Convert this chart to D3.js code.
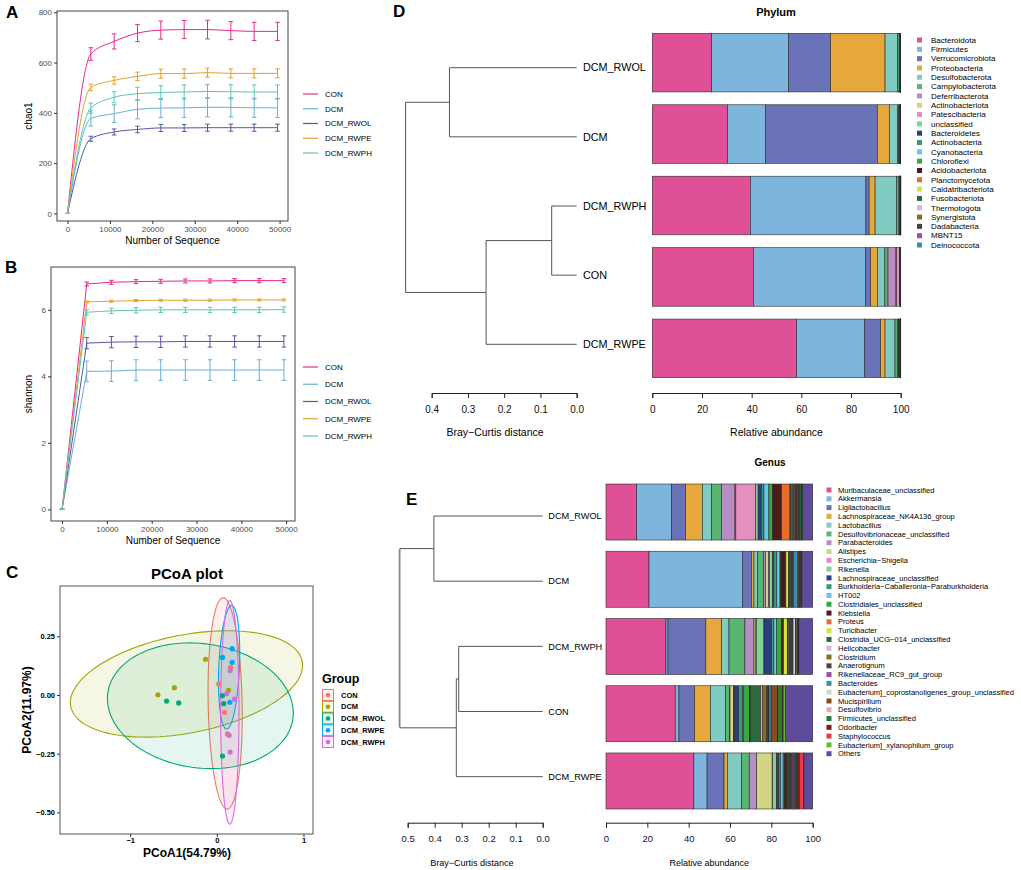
<!DOCTYPE html>
<html>
<head>
<meta charset="utf-8">
<script src="https://cdn.jsdelivr.net/npm/d3@7"></script>
<style>
body { margin: 0; background: #fff; }
text { font-family: "Liberation Sans", Arial, sans-serif; }
</style>
</head>
<body>
<svg id="svg" width="1021" height="870"></svg>
<script>
var svg = d3.select("#svg");

// groups and colours
var groups = ["CON", "DCM", "DCM_RWOL", "DCM_RWPE", "DCM_RWPH"];
var lineColors = ["#e7298a", "#6baed6", "#5457a8", "#e6a02b", "#5fc4b4"];
var pcoaColors = ["#f8766d", "#a3a500", "#00a876", "#00a9ee", "#d56be0"];

// rarefaction (A, B) - rows follow groups order
var seqDepth = [0, 5500, 11000, 16500, 22000, 27500, 33000, 38500, 44000, 49500];
var chao1Mean = [
  [0, 634, 684, 717, 729, 731, 731, 727, 724, 724],
  [0, 378, 397, 414, 419, 420, 422, 422, 420, 420],
  [0, 297, 324, 334, 340, 340, 341, 341, 341, 341],
  [0, 501, 529, 545, 556, 556, 560, 557, 557, 557],
  [0, 419, 462, 476, 481, 483, 485, 484, 483, 483]
];
var chao1Err = [
  [0, 25, 30, 34, 36, 36, 37, 36, 36, 36],
  [0, 30, 35, 38, 38, 38, 38, 38, 38, 38],
  [0, 10, 12, 13, 14, 14, 14, 14, 14, 14],
  [0, 13, 15, 17, 18, 18, 18, 18, 18, 18],
  [0, 20, 22, 26, 27, 28, 28, 28, 28, 28]
];
var shannonMean = [
  [0, 6.78, 6.83, 6.85, 6.86, 6.87, 6.87, 6.88, 6.88, 6.88],
  [0, 4.15, 4.16, 4.19, 4.19, 4.19, 4.19, 4.19, 4.19, 4.19],
  [0, 5.00, 5.03, 5.04, 5.04, 5.05, 5.05, 5.05, 5.05, 5.05],
  [0, 6.24, 6.26, 6.28, 6.29, 6.29, 6.29, 6.30, 6.30, 6.30],
  [0, 5.93, 5.97, 5.99, 6.00, 6.00, 6.00, 6.00, 6.00, 6.01]
];
var shannonErr = [
  [0, 0.06, 0.06, 0.06, 0.06, 0.06, 0.06, 0.06, 0.06, 0.06],
  [0, 0.31, 0.31, 0.31, 0.31, 0.31, 0.31, 0.31, 0.31, 0.31],
  [0, 0.17, 0.17, 0.17, 0.17, 0.17, 0.17, 0.17, 0.17, 0.17],
  [0, 0.03, 0.03, 0.03, 0.03, 0.03, 0.03, 0.03, 0.03, 0.03],
  [0, 0.08, 0.08, 0.08, 0.08, 0.08, 0.08, 0.08, 0.08, 0.08]
];

// PCoA samples
var pcoaGroup = ["DCM","DCM","DCM","DCM",
  "DCM_RWOL","DCM_RWOL","DCM_RWOL","DCM_RWOL","DCM_RWOL",
  "CON","CON","CON","CON",
  "DCM_RWPE","DCM_RWPE","DCM_RWPE","DCM_RWPE",
  "DCM_RWPH","DCM_RWPH","DCM_RWPH","DCM_RWPH","DCM_RWPH"];
var pcoa1 = [-0.13, -0.49, -0.68, 0.135,
  -0.58, -0.44, 0.065, 0.08, 0.065,
  0.023, 0.158, 0.089, 0.123,
  0.177, 0.065, 0.177, 0.15,
  0.154, 0.115, 0.204, 0.142, 0.154];
var pcoa2 = [0.152, 0.031, 0.001, 0.02,
  -0.026, -0.034, -0.003, -0.037, -0.26,
  0.047, 0.118, -0.074, -0.166,
  0.197, 0.16, 0.139, -0.031,
  0.104, 0.006, -0.018, -0.172, -0.243];
// confidence ellipses (groups order): centre and two half-axis vectors
var ellCX = [0.096, -0.35, -0.19, 0.142, 0.15];
var ellCY = [-0.036, 0.047, -0.046, 0.118, -0.074];
var ellAX = [-0.023, 1.336, 1.068, 0.029, 0];
var ellAY = [0.450, 0.096, -0.055, 0.263, 0.476];
var ellBX = [0.196, 0.107, -0.099, 0.119, 0.106];
var ellBY = [0, -0.205, -0.262, 0, 0];

// D / E samples (top to bottom) and trees [left, right, height]
var samples = ["DCM_RWOL", "DCM", "DCM_RWPH", "CON", "DCM_RWPE"];
var phylumTree = [["DCM_RWOL", "DCM", 0.351], [["DCM_RWPH", "CON", 0.069], "DCM_RWPE", 0.25], 0.472];
var genusTree = [["DCM_RWOL", "DCM", 0.403], [["DCM_RWPH", "CON", 0.311], "DCM_RWPE", 0.32], 0.529];

var phylumNames = ["Bacteroidota","Firmicutes","Verrucomicrobiota","Proteobacteria","Desulfobacterota",
  "Campylobacterota","Deferribacterota","Actinobacteriota","Patescibacteria","unclassified","Bacteroidetes",
  "Actinobacteria","Cyanobacteria","Chloroflexi","Acidobacteriota","Planctomycetota","Caldatribacteriota",
  "Fusobacteriota","Thermotogota","Synergistota","Dadabacteria","MBNT15","Deinococcota"];
var phylumColors = ["#e05096","#7db5dc","#6a73b8","#e6a83d","#80cbc2","#5ab573","#b88dc4","#d4d486",
  "#e58fbf","#82d195","#2e3d7e","#3a9a80","#62c8ea","#3aa840","#4a1c1c","#e86c2a","#d6e33a","#2d6b3c",
  "#cdb8e0","#8c6d1f","#4d4040","#a349a8","#3b8ea8"];
var phylumRWOL = [23.9, 31.0, 16.9, 21.9, 5.1, 0.6, 0.1, 0.1, 0.05, 0.1, 0.05, 0.05, 0.05, 0.02, 0.02, 0.01, 0.01, 0.01, 0.01, 0.01, 0.005, 0.005, 0.005];
var phylumDCM = [30.3, 15.2, 45.1, 4.8, 3.4, 0.3, 0.3, 0.1, 0.1, 0.1, 0.1, 0.05, 0.05, 0.02, 0.02, 0.01, 0.01, 0.01, 0.01, 0.01, 0.005, 0.005, 0.005];
var phylumRWPH = [39.5, 46.5, 1.3, 2.4, 8.7, 0.9, 0.2, 0.1, 0.1, 0.1, 0.05, 0.05, 0.04, 0.02, 0.01, 0.01, 0.01, 0.01, 0.01, 0.01, 0.005, 0.005, 0.005];
var phylumCON = [40.7, 45.1, 2.1, 2.7, 3.0, 1.3, 3.2, 0.2, 1.2, 0.2, 0.1, 0.05, 0.05, 0.02, 0.02, 0.01, 0.01, 0.01, 0.01, 0.01, 0.005, 0.005, 0.005];
var phylumRWPE = [58.1, 27.3, 6.5, 1.8, 4.0, 1.1, 0.2, 0.1, 0.1, 0.3, 0.2, 0.1, 0.05, 0.05, 0.04, 0.02, 0.01, 0.01, 0.01, 0.01, 0.005, 0.005, 0.005];

var genusNames = ["Muribaculaceae_unclassified","Akkermansia","Ligilactobacillus","Lachnospiraceae_NK4A136_group",
  "Lactobacillus","Desulfovibrionaceae_unclassified","Parabacteroides","Alistipes","Escherichia\u2212Shigella",
  "Rikenella","Lachnospiraceae_unclassified","Burkholderia\u2212Caballeronia\u2212Paraburkholderia","HT002",
  "Clostridiales_unclassified","Klebsiella","Proteus","Turicibacter","Clostridia_UCG\u2212014_unclassified",
  "Helicobacter","Clostridium","Anaerotignum","Rikenellaceae_RC9_gut_group","Bacteroides",
  "Eubacterium]_coprostanoligenes_group_unclassified","Mucispirillum","Desulfovibrio","Firmicutes_unclassified",
  "Odoribacter","Staphylococcus","Eubacterium]_xylanophilum_group","Others"];
var genusColors = phylumColors.concat(["#c9dccf","#8a4a20","#e6a6b0","#2f7a30","#7d1c1c","#e83a4a","#6ab92b","#5e4b9c"]);
var genusRWOL = [14.8, 17.0, 6.7, 8.1, 4.5, 4.8, 6.5, 0.4, 9.6, 1.2, 1.6, 1.2, 2.4, 1.8, 4.4, 4.0, 0.3, 1.0, 0.3, 0.8, 0.8, 0.2, 0.4, 0.3, 0.3, 0.2, 0.8, 0.3, 0.1, 0.2, 5.0];
var genusDCM = [20.8, 45.2, 4.4, 1.2, 1.8, 2.8, 1.0, 1.4, 0.4, 1.6, 0.6, 1.4, 1.6, 0.4, 2.2, 0.2, 1.2, 0.8, 0.4, 0.4, 0.6, 0.2, 2.2, 0.2, 0.6, 0.1, 0.5, 0.3, 0.1, 0.2, 5.2];
var genusRWPH = [29.0, 1.0, 18.3, 7.6, 3.6, 7.7, 4.4, 0.9, 0.2, 3.7, 3.7, 1.1, 1.3, 2.5, 0.8, 0.1, 1.8, 0.4, 0.4, 0.5, 0.8, 0.5, 0.2, 1.2, 0.2, 0.5, 0.3, 0.3, 0.1, 0.2, 6.7];
var genusCON = [33.5, 1.8, 7.5, 7.7, 7.4, 1.8, 0.3, 1.6, 0.2, 0.3, 2.0, 2.0, 0.3, 3.0, 0.2, 0.1, 0.1, 5.0, 0.8, 2.2, 0.8, 0.2, 1.1, 0.2, 2.8, 0.2, 2.2, 0.3, 0.1, 1.2, 13.1];
var genusRWPE = [42.5, 6.4, 8.2, 1.6, 6.9, 3.7, 3.6, 7.5, 0.2, 1.9, 1.1, 0.8, 1.3, 0.6, 1.2, 0.2, 0.2, 0.6, 0.3, 0.3, 1.0, 0.8, 0.3, 0.3, 0.2, 0.3, 0.4, 1.2, 1.9, 0.3, 4.2];

var xTicksSeq = [0, 10000, 20000, 30000, 40000, 50000];

// small helper for panel letters and loose text
var label = function(x, y, txt, size, weight, anchor) {
  return svg.append("text").attr("x", x).attr("y", y).text(txt)
    .attr("font-size", size).attr("font-weight", weight || "normal")
    .attr("text-anchor", anchor || "start");
};

// ggplot-ish axis styling
var styleGG = function(sel, size, bold) {
  sel.select(".domain").remove();
  sel.selectAll("line").attr("stroke", "#333");
  sel.selectAll("text").attr("font-size", size).attr("fill", bold ? "#000" : "#4d4d4d")
    .attr("font-weight", bold ? "bold" : "normal");
};

// ---------- A, B rarefaction ----------
var rarePanel = function(cfg) {
  var g = svg.append("g");
  var x = d3.scaleLinear().domain([-2475, 51975]).range([cfg.left, cfg.right]);
  var y = d3.scaleLinear().domain(cfg.yDomain).range([cfg.bottom, cfg.top]);
  var line = d3.line()
    .x(function(d, i) { return x(seqDepth[i]); })
    .y(function(d) { return y(d); })
    .curve(cfg.smooth ? d3.curveMonotoneX : d3.curveLinear);

  groups.forEach(function(grp, gi) {
    var m = cfg.mean[gi], e = cfg.err[gi];
    var gg = g.append("g").attr("stroke", lineColors[gi]).attr("stroke-width", 1).attr("fill", "none");
    gg.append("path").attr("d", line(m));
    seqDepth.forEach(function(s, i) {
      var cx = x(s);
      gg.append("line").attr("x1", cx).attr("x2", cx).attr("y1", y(m[i] - e[i])).attr("y2", y(m[i] + e[i]));
      gg.append("line").attr("x1", cx - 2.3).attr("x2", cx + 2.3).attr("y1", y(m[i] - e[i])).attr("y2", y(m[i] - e[i]));
      gg.append("line").attr("x1", cx - 2.3).attr("x2", cx + 2.3).attr("y1", y(m[i] + e[i])).attr("y2", y(m[i] + e[i]));
    });
  });

  g.append("rect").attr("x", cfg.left).attr("y", cfg.top)
    .attr("width", cfg.right - cfg.left).attr("height", cfg.bottom - cfg.top)
    .attr("fill", "none").attr("stroke", "#444").attr("stroke-width", 1);

  var xa = g.append("g").attr("transform", "translate(0," + cfg.bottom + ")")
    .call(d3.axisBottom(x).tickValues(xTicksSeq).tickFormat(d3.format("d")).tickSize(3).tickPadding(2));
  styleGG(xa, 8);
  var ya = g.append("g").attr("transform", "translate(" + cfg.left + ",0)")
    .call(d3.axisLeft(y).tickValues(cfg.yTicks).tickSize(3).tickPadding(2));
  styleGG(ya, 8);

  label((cfg.left + cfg.right) / 2, cfg.bottom + 23, "Number of Sequence", 10, "normal", "middle");
  svg.append("text").attr("transform", "translate(" + cfg.yTitleX + "," + (cfg.top + cfg.bottom) / 2 + ") rotate(-90)")
    .attr("text-anchor", "middle").attr("font-size", 10).text(cfg.yTitle);

  // legend (no title)
  var ly = d3.scalePoint().domain(groups).range(cfg.legendY);
  var lg = g.selectAll(".lg").data(groups).enter().append("g")
    .attr("transform", function(d) { return "translate(303," + ly(d) + ")"; });
  lg.append("line").attr("x1", 0).attr("x2", 15)
    .attr("stroke", function(d, i) { return lineColors[i]; }).attr("stroke-width", 1.2);
  lg.append("text").attr("x", 22).attr("dy", "0.35em").attr("font-size", 8).text(function(d) { return d; });
};

rarePanel({ left: 57, right: 288, top: 11, bottom: 221, yDomain: [-30, 805], yTicks: [0, 200, 400, 600, 800],
  mean: chao1Mean, err: chao1Err, smooth: true, yTitle: "chao1", yTitleX: 32, legendY: [94, 153] });
rarePanel({ left: 51, right: 295, top: 267, bottom: 521, yDomain: [-0.35, 7.29], yTicks: [0, 2, 4, 6],
  mean: shannonMean, err: shannonErr, smooth: false, yTitle: "shannon", yTitleX: 32, legendY: [367, 436] });

label(6, 18, "A", 17, "bold");
label(5, 273, "B", 17, "bold");
label(6, 578, "C", 17, "bold");

// ---------- C PCoA ----------
var xC = d3.scaleLinear().domain([-1.81, 1.11]).range([60, 313]);
var yC = d3.scaleLinear().domain([-0.592, 0.464]).range([834, 586]);
var gC = svg.append("g");

var ellLine = d3.line().curve(d3.curveLinearClosed);
groups.forEach(function(grp, gi) {
  var pts = d3.range(0, 360, 3).map(function(a) {
    var t = a * Math.PI / 180;
    return [xC(ellCX[gi] + ellAX[gi] * Math.cos(t) + ellBX[gi] * Math.sin(t)),
            yC(ellCY[gi] + ellAY[gi] * Math.cos(t) + ellBY[gi] * Math.sin(t))];
  });
  gC.append("path").attr("d", ellLine(pts))
    .attr("fill", pcoaColors[gi]).attr("fill-opacity", 0.1)
    .attr("stroke", pcoaColors[gi]).attr("stroke-width", 1.1);
});

gC.selectAll("circle").data(pcoa1).enter().append("circle")
  .attr("cx", function(d) { return xC(d); })
  .attr("cy", function(d, i) { return yC(pcoa2[i]); })
  .attr("r", 2.6)
  .attr("fill", function(d, i) { return pcoaColors[groups.indexOf(pcoaGroup[i])]; });

gC.append("rect").attr("x", 60).attr("y", 586).attr("width", 253).attr("height", 248)
  .attr("fill", "none").attr("stroke", "#555").attr("stroke-width", 1);
var xaC = gC.append("g").attr("transform", "translate(0,834)")
  .call(d3.axisBottom(xC).tickValues([-1, 0, 1]).tickFormat(d3.format("d")).tickSize(3).tickPadding(1));
styleGG(xaC, 7.5, true);
var yaC = gC.append("g").attr("transform", "translate(60,0)")
  .call(d3.axisLeft(yC).tickValues([-0.5, -0.25, 0, 0.25]).tickFormat(d3.format(".2f")).tickSize(3).tickPadding(2));
styleGG(yaC, 7.5, true);

label(187, 579, "PCoA plot", 15, "bold", "middle");
label(187, 857, "PCoA1(54.79%)", 12, "bold", "middle");
svg.append("text").attr("transform", "translate(31,710) rotate(-90)").attr("text-anchor", "middle")
  .attr("font-size", 12).attr("font-weight", "bold").text("PCoA2(11.97%)");

label(322, 683, "Group", 12.5, "bold");
var lyC = d3.scalePoint().domain(groups).range([695, 742]);
var lgC = gC.selectAll(".lgc").data(groups).enter().append("g")
  .attr("transform", function(d) { return "translate(328," + lyC(d) + ")"; });
lgC.append("rect").attr("x", -5.5).attr("y", -5.5).attr("width", 11).attr("height", 11)
  .attr("fill", function(d, i) { return pcoaColors[i]; }).attr("fill-opacity", 0.1)
  .attr("stroke", function(d, i) { return pcoaColors[i]; }).attr("stroke-width", 1);
lgC.append("circle").attr("r", 2.3).attr("fill", function(d, i) { return pcoaColors[i]; });
lgC.append("text").attr("x", 13).attr("dy", "0.35em").attr("font-size", 7.5).attr("font-weight", "bold")
  .text(function(d) { return d; });

// faint divider left of D/E
svg.append("line").attr("x1", 399).attr("x2", 399).attr("y1", 550).attr("y2", 727)
  .attr("stroke", "#aaa").attr("stroke-width", 0.8);

// ---------- D, E dendrogram + stacked bars ----------
var drawTree = function(g, node, x, y) {
  if (typeof node === "string") return { px: x(0), py: y(node) };
  var a = drawTree(g, node[0], x, y);
  var b = drawTree(g, node[1], x, y);
  var nx = x(node[2]);
  [a, b].forEach(function(c) {
    g.append("line").attr("x1", nx).attr("x2", c.px).attr("y1", c.py).attr("y2", c.py);
  });
  g.append("line").attr("x1", nx).attr("x2", nx).attr("y1", a.py).attr("y2", b.py);
  return { px: nx, py: (a.py + b.py) / 2 };
};

var styleBase = function(sel, size) {
  sel.selectAll("line, path").attr("stroke", "#222");
  sel.selectAll("text").attr("font-size", size).attr("fill", "#111");
};

var treeBarPanel = function(cfg) {
  var g = svg.append("g");
  // dendrogram
  var xd = d3.scaleLinear().domain([cfg.maxDist, 0]).range(cfg.treeX);
  var yd = d3.scalePoint().domain(samples).range(cfg.leafY);
  var tg = g.append("g").attr("stroke", "#555").attr("stroke-width", 1);
  drawTree(tg, cfg.tree, xd, yd);
  g.selectAll(".leaf").data(samples).enter().append("text")
    .attr("x", cfg.leafTextX).attr("y", function(d) { return yd(d); }).attr("dy", "0.35em")
    .attr("font-size", cfg.leafSize).text(function(d) { return d; });
  var da = g.append("g").attr("transform", "translate(0," + cfg.axisY + ")")
    .call(d3.axisBottom(xd).ticks(cfg.maxDist * 10).tickFormat(d3.format(".1f")).tickSize(5).tickSizeOuter(5).tickPadding(8));
  styleBase(da, cfg.tickSize);
  label(cfg.distLabelX, cfg.axisY + 43, "Bray\u2212Curtis distance", cfg.titleSize, "normal", "middle");

  // stacked bars
  var xb = d3.scaleLinear().domain([0, 100]).range(cfg.barX);
  var yb = d3.scaleBand().domain(samples).range(cfg.barY).paddingInner(cfg.pad).paddingOuter(cfg.pad / 2);
  var rows = cfg.values.map(function(v, i) { var r = v.slice(); r.sample = samples[i]; return r; });
  var series = d3.stack().keys(d3.range(cfg.names.length))(rows);
  g.selectAll(".layer").data(series).enter().append("g")
    .attr("fill", function(s) { return cfg.colors[s.key]; })
    .selectAll("rect").data(function(s) { return s; }).enter().append("rect")
    .attr("x", function(d) { return xb(d[0]); })
    .attr("width", function(d) { return xb(d[1]) - xb(d[0]); })
    .attr("y", function(d) { return yb(d.data.sample); })
    .attr("height", yb.bandwidth())
    .attr("stroke", "#2a2a2a").attr("stroke-width", 0.6);
  var ba = g.append("g").attr("transform", "translate(0," + cfg.axisY + ")")
    .call(d3.axisBottom(xb).tickValues([0, 20, 40, 60, 80, 100]).tickSize(5).tickSizeOuter(5).tickPadding(8));
  styleBase(ba, cfg.tickSize);
  label((cfg.barX[0] + cfg.barX[1]) / 2, cfg.axisY + 43, "Relative abundance", cfg.titleSize, "normal", "middle");

  // legend
  var ly = d3.scalePoint().domain(d3.range(cfg.names.length)).range(cfg.legendY);
  var lg = g.selectAll(".lgd").data(cfg.names).enter().append("g")
    .attr("transform", function(d, i) { return "translate(" + cfg.legendX + "," + ly(i) + ")"; });
  lg.append("rect").attr("x", 0).attr("y", -2.5).attr("width", 5).attr("height", 5)
    .attr("fill", function(d, i) { return cfg.colors[i]; });
  lg.append("text").attr("x", cfg.legendTextDx).attr("dy", "0.35em").attr("font-size", cfg.legendSize)
    .text(function(d) { return d; });

  label(cfg.titleX, cfg.titleY, cfg.title, cfg.headSize, "bold", "middle");
};

treeBarPanel({
  tree: phylumTree, maxDist: 0.4, treeX: [431.7, 576.7], leafY: [67.7, 344.3], leafTextX: 583, leafSize: 10.8,
  axisY: 393, tickSize: 10, titleSize: 10.5, distLabelX: 495,
  barX: [652.3, 900.7], barY: [26.9, 384.1], pad: 0.18,
  names: phylumNames, colors: phylumColors,
  values: [phylumRWOL, phylumDCM, phylumRWPH, phylumCON, phylumRWPE],
  legendX: 917, legendY: [40, 245], legendTextDx: 14, legendSize: 8,
  title: "Phylum", titleX: 776, titleY: 16, headSize: 11
});
treeBarPanel({
  tree: genusTree, maxDist: 0.5, treeX: [407.7, 542.7], leafY: [516, 776.7], leafTextX: 548.3, leafSize: 9.2,
  axisY: 822.7, tickSize: 9.5, titleSize: 9, distLabelX: 472,
  barX: [606, 812.7], barY: [478.4, 814.6], pad: 0.167,
  names: genusNames, colors: genusColors,
  values: [genusRWOL, genusDCM, genusRWPH, genusCON, genusRWPE],
  legendX: 826.5, legendY: [490, 753.7], legendTextDx: 11.5, legendSize: 7.5,
  title: "Genus", titleX: 770, titleY: 466, headSize: 10
});

label(393, 17, "D", 17, "bold");
label(406, 505, "E", 17, "bold");
</script>
</body>
</html>
